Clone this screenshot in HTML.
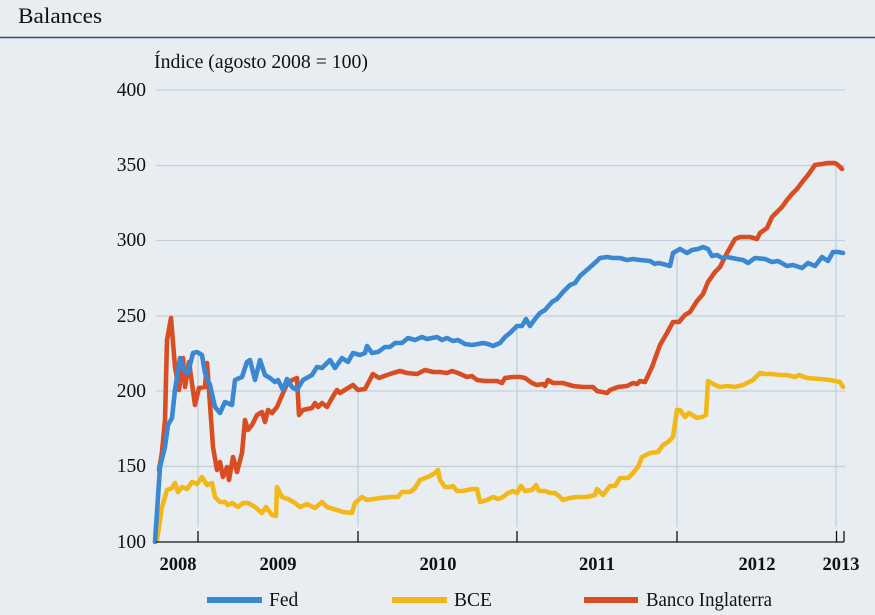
<!DOCTYPE html>
<html><head><meta charset="utf-8"><style>
html,body{margin:0;padding:0;background:#e8edf2;}
svg{display:block;}
text{font-family:"Liberation Serif",serif;fill:#111;}
</style></head><body>
<svg width="875" height="615" viewBox="0 0 875 615" xmlns="http://www.w3.org/2000/svg">
<rect width="875" height="615" fill="#e8edf2"/>
<text x="18" y="23" font-size="22" textLength="84" lengthAdjust="spacingAndGlyphs">Balances</text>
<line x1="0" y1="37.5" x2="875" y2="37.5" stroke="#2a4f7f" stroke-width="1.5"/>
<text x="154" y="68" font-size="19.5" textLength="214" lengthAdjust="spacingAndGlyphs">Índice (agosto 2008 = 100)</text>
<g stroke="#c4cfdb" stroke-width="1.3">
<line x1="156" y1="90" x2="845" y2="90"/>
<line x1="156" y1="165.5" x2="845" y2="165.5"/>
<line x1="156" y1="240.5" x2="845" y2="240.5"/>
<line x1="156" y1="316" x2="845" y2="316"/>
<line x1="156" y1="391" x2="845" y2="391"/>
<line x1="156" y1="466.5" x2="845" y2="466.5"/>
<line x1="198" y1="355" x2="198" y2="527"/>
<line x1="358" y1="390" x2="358" y2="527"/>
<line x1="517" y1="326" x2="517" y2="527"/>
<line x1="677" y1="254" x2="677" y2="527"/>
<line x1="836" y1="165" x2="836" y2="527"/>
</g>
<g font-size="19.5" text-anchor="end">
<text x="146" y="96">400</text>
<text x="146" y="171">350</text>
<text x="146" y="246">300</text>
<text x="146" y="322">250</text>
<text x="146" y="397">200</text>
<text x="146" y="472">150</text>
<text x="146" y="548">100</text>
</g>
<g font-size="18.5" font-weight="bold" text-anchor="middle">
<text x="178" y="570">2008</text>
<text x="278" y="570">2009</text>
<text x="438" y="570">2010</text>
<text x="597" y="570">2011</text>
<text x="757" y="570">2012</text>
<text x="841" y="570">2013</text>
</g>
<g fill="none" stroke-width="4.6" stroke-linejoin="round" stroke-linecap="round">
<polyline stroke="#f2b81a" points="157,540 162,507 167,490 172,488 175,483 178,492 182,487 187,489 192,482 197,484 202,477 207,485 212,483 215,497 220,502 225,502 228,505 232,503 238,507 243,503 248,503 255,507 262,513 266,507 272,515 276,516 277,487 282,497 288,499 295,503 300,507 307,504 315,508 322,502 327,507 337,510 343,512 352,513 355,503 362,497 367,500 380,498 390,497 398,497 402,492 410,492 415,488 420,480 425,478 430,476 435,473 438,470 440,480 445,487 450,487 453,486 457,491 463,491 472,489 477,489 480,502 487,500 493,497 498,499 503,497 508,493 513,491 517,493 521,486 525,491 532,490 536,485 539,491 545,491 550,493 555,493 560,497 563,500 570,498 577,497 587,497 595,495 597,489 603,495 610,486 615,486 620,478 628,478 633,473 638,467 642,457 650,453 658,452 663,445 668,442 673,437 677,410 680,410 685,417 689,413 697,418 702,417 706,415 708,381 715,385 720,387 727,386 735,387 743,385 753,380 760,373 765,374 772,374 780,375 787,375 795,377 799,375 807,378 820,379 830,380 840,382 843,387"/>
<polyline stroke="#d94d22" points="159,470 162,452 165,420 167,340 171,318 175,367 179,390 183,358 185,387 189,362 195,405 199,388 205,387 207,363 209,390 213,447 217,470 220,462 223,477 227,467 229,480 233,457 237,472 242,453 245,420 248,430 252,425 257,415 262,412 265,422 268,410 272,413 277,407 283,393 288,382 297,378 299,415 303,410 312,408 315,403 318,407 322,403 327,407 332,398 337,390 340,393 348,388 353,385 358,390 365,389 373,374 379,378 387,375 393,373 400,371 407,373 417,374 425,370 433,372 440,372 447,373 452,371 458,373 467,377 472,376 477,380 485,381 497,381 502,383 505,378 513,377 520,377 525,378 532,383 537,385 543,384 545,386 548,380 553,383 563,383 573,386 583,387 593,387 597,391 607,393 610,390 618,387 627,386 633,383 637,384 640,381 645,382 652,367 660,345 667,333 673,322 679,322 685,315 690,312 697,301 703,294 708,282 715,272 720,267 727,253 735,239 740,237 750,237 757,239 760,233 767,228 772,217 777,212 782,207 787,200 792,194 797,189 803,181 808,175 815,165 822,164 828,163 835,163 838,165 842,169"/>
<polyline stroke="#3b88d2" points="155,542 160,467 165,447 168,425 172,418 175,390 180,358 185,372 188,373 193,353 197,352 202,355 205,373 210,385 215,407 220,413 225,402 232,405 235,380 242,377 247,362 250,360 255,380 260,360 265,375 270,378 275,382 278,380 283,390 287,379 292,387 297,390 303,380 312,375 317,367 322,368 330,360 335,368 342,358 348,362 353,353 360,355 365,353 367,346 372,353 378,352 385,347 390,347 395,343 402,343 408,338 415,340 422,337 427,339 432,338 437,337 442,340 447,338 453,341 458,340 465,344 472,345 478,344 483,343 488,344 493,346 500,343 505,337 510,333 517,326 522,326 526,319 530,326 535,319 540,313 545,310 552,302 557,299 563,292 570,285 575,283 580,276 588,269 597,261 600,258 607,257 613,258 620,258 627,260 633,259 640,260 650,261 655,264 658,263 663,264 670,266 673,253 680,249 687,253 692,250 698,249 703,247 708,249 712,256 717,255 722,258 727,257 737,259 743,260 748,263 755,258 765,259 772,262 778,261 787,266 793,265 802,268 808,263 815,266 822,257 828,261 833,252 838,252 843,253"/>
</g>
<line x1="156" y1="542" x2="844" y2="542" stroke="#111" stroke-width="1.3"/>
<g stroke="#111" stroke-width="1.3">
<line x1="198" y1="531" x2="198" y2="542"/>
<line x1="358" y1="531" x2="358" y2="542"/>
<line x1="517" y1="531" x2="517" y2="542"/>
<line x1="677" y1="531" x2="677" y2="542"/>
<line x1="836.5" y1="531" x2="836.5" y2="542"/>
<line x1="844" y1="531" x2="844" y2="542"/>
</g>
<g stroke-width="6">
<line x1="207" y1="600" x2="262" y2="600" stroke="#3b88d2"/>
<line x1="392" y1="600" x2="447" y2="600" stroke="#f2b81a"/>
<line x1="584" y1="600" x2="638" y2="600" stroke="#d94d22"/>
</g>
<g font-size="19.5">
<text x="269" y="606">Fed</text>
<text x="454" y="606">BCE</text>
<text x="646" y="606" textLength="126" lengthAdjust="spacingAndGlyphs">Banco Inglaterra</text>
</g>
</svg>
</body></html>
